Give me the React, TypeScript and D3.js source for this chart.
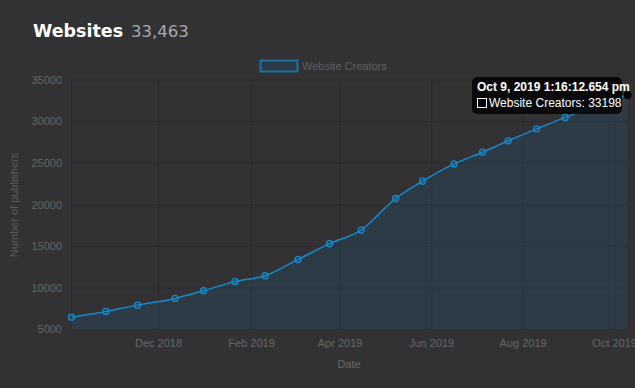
import React from "react";
import * as d3 from "d3";

const dates: string[] = [
  "2018-10-04T00:00:00", "2018-10-27", "2018-11-17", "2018-12-12", "2018-12-31",
  "2019-01-21", "2019-02-10", "2019-03-04", "2019-03-25", "2019-04-15",
  "2019-05-08", "2019-05-26", "2019-06-16", "2019-07-05", "2019-07-22",
  "2019-08-10", "2019-08-29", "2019-09-18", "2019-10-09T13:16:12",
];
const creators: number[] = [
  6480, 7170, 7930, 8740, 9660, 10780, 11470, 13430, 15320, 16960,
  20750, 22830, 24910, 26320, 27690, 29130, 30500, 31900, 33198,
];
const yTicks: number[] = [5000, 10000, 15000, 20000, 25000, 30000, 35000];
const xTickDates: string[] = ["2018-12-01", "2019-02-01", "2019-04-01", "2019-06-01", "2019-08-01", "2019-10-01"];
const xTickLabels: string[] = ["Dec 2018", "Feb 2019", "Apr 2019", "Jun 2019", "Aug 2019", "Oct 2019"];
const seriesName = "Website Creators";
const titleText = "Websites";
const totalText = "33,463";
const tooltipTitle = "Oct 9, 2019 1:16:12.654 pm";

const parse = (s: string) => new Date(s.length <= 10 ? s + "T00:00:00" : s);

export default function App() {
  const W = 635, H = 388;
  const left = 71.5, right = 627.5, top = 80, bottom = 329.5;
  const pts = dates.map((d, i) => ({ d: parse(d), v: creators[i] }));
  const x = d3.scaleTime().domain([pts[0].d, pts[pts.length - 1].d]).range([left, right]);
  const y = d3.scaleLinear().domain([5000, 35000]).range([bottom, top]);
  const line = d3.line<{ d: Date; v: number }>().x(p => x(p.d)).y(p => y(p.v)).curve(d3.curveMonotoneX);
  const area = d3.area<{ d: Date; v: number }>().x(p => x(p.d)).y0(bottom).y1(p => y(p.v)).curve(d3.curveMonotoneX);
  const font = "'Liberation Sans', Arial, Helvetica, sans-serif";
  const grid = "#2b2b2d";
  const lineColor = "#168bcc";
  const last = pts[pts.length - 1];
  const lx = x(last.d), ly = y(last.v);
  return (
    <svg width={W} height={H} style={{ position: "absolute", left: 0, top: 0 }}>
      <rect x={0} y={0} width={W} height={H} fill="#323234" />
      <text x={33} y={37} fontFamily="'DejaVu Sans', sans-serif" fontWeight="bold" fontSize={17.5} fill="#ffffff">{titleText}</text>
      <text x={131} y={37} fontFamily="'DejaVu Sans', sans-serif" fontSize={16.5} fill="#a9a9ab">{totalText}</text>
      {/* legend */}
      <rect x={260.5} y={60.5} width={37} height={11} fill="rgba(10,120,190,0.13)" stroke={lineColor} strokeOpacity={0.7} strokeWidth={2} />
      <text x={302} y={70} fontFamily={font} fontSize={11} fill="#5f5f62">{seriesName}</text>
      {/* grid */}
      {yTicks.map(t => (
        <line key={"gy" + t} x1={left} x2={right} y1={y(t)} y2={y(t)} stroke={grid} strokeWidth={1} />
      ))}
      {xTickDates.map(t => (
        <line key={"gx" + t} x1={x(parse(t))} x2={x(parse(t))} y1={top} y2={bottom} stroke={grid} strokeWidth={1} />
      ))}
      <line x1={left} x2={left} y1={top} y2={bottom} stroke={grid} strokeWidth={1} />
      {/* area & line */}
      <path d={area(pts) || ""} fill="rgba(10,120,190,0.13)" />
      <path d={line(pts) || ""} fill="none" stroke={lineColor} strokeWidth={1.5} />
      {pts.slice(0, -1).map((p, i) => (
        <circle key={i} cx={x(p.d)} cy={y(p.v)} r={3} fill="rgba(10,120,190,0.13)" stroke={lineColor} strokeWidth={1.3} />
      ))}
      {/* y tick labels */}
      {yTicks.map(t => (
        <text key={"ty" + t} x={62} y={y(t)} dy="0.35em" textAnchor="end" fontFamily={font} fontSize={11} fill="#666668">{t}</text>
      ))}
      {xTickDates.map((t, i) => (
        <text key={"tx" + t} x={x(parse(t))} y={343} dy="0.35em" textAnchor="middle" fontFamily={font} fontSize={11} fill="#666668">{xTickLabels[i]}</text>
      ))}
      <text x={349} y={364} dy="0.35em" textAnchor="middle" fontFamily={font} fontSize={11} fill="#666668">Date</text>
      <text transform="translate(14,205) rotate(-90)" dy="0.35em" textAnchor="middle" fontFamily={font} fontSize={11} fill="#5a5a5d">Number of publishers</text>
      {/* tooltip */}
      <rect x={472} y={77} width={150} height={37} rx={5} fill="rgba(0,0,0,0.82)" />
      <text x={477} y={91} fontFamily={font} fontWeight="bold" fontSize={12} fill="#ffffff">{tooltipTitle}</text>
      <rect x={477.5} y={98.5} width={9} height={9} fill="#000" stroke="#ffffff" strokeWidth={1} />
      <text x={489} y={107} fontFamily={font} fontSize={12} fill="#ffffff">{seriesName + ": " + last.v}</text>
      <circle cx={lx} cy={ly} r={4} fill="#000" />
    </svg>
  );
}
